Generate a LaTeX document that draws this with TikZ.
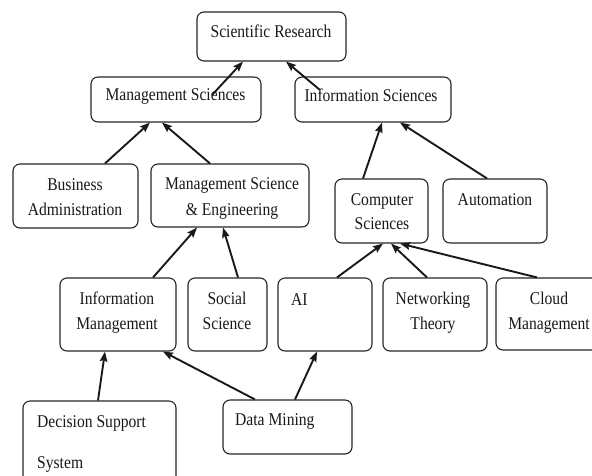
\documentclass[tikz,border=0pt]{standalone}
\usepackage{fontspec}
\usepackage{graphicx}
\setmainfont{Liberation Serif}
\usetikzlibrary{arrows.meta,calc}
\newcommand\vs[1]{\scalebox{1}[1.15]{#1}}
\begin{document}
\begin{tikzpicture}[x=1pt,y=-1pt,
  box/.style={draw=black!85,line width=1.1pt,rounded corners=7pt,fill=white,inner sep=0pt},
  txt/.style={anchor=base,inner sep=0pt,text=black!90,font=\fontsize{15.6}{18}\selectfont},
  ltxt/.style={txt,anchor=base west},
  arr/.style={line width=1.9pt,black!90,-{Stealth[length=10pt,width=7.5pt,inset=1.5pt]}}]
\clip (0,0) rectangle (592,475);
\fill[white] (0,0) rectangle (592,475);
% boxes
\node[box,minimum width=149pt,minimum height=49pt] (sr) at (271.5,36.5) {};
\node[box,minimum width=170pt,minimum height=45pt] (ms) at (176,99.5) {};
\node[box,minimum width=156pt,minimum height=45pt] (is) at (373,99.5) {};
\node[box,minimum width=125pt,minimum height=64pt] (ba) at (75.5,196) {};
\node[box,minimum width=158pt,minimum height=63pt] (mse) at (230,195.5) {};
\node[box,minimum width=93pt,minimum height=64pt] (cs) at (381.5,211) {};
\node[box,minimum width=104pt,minimum height=64pt] (au) at (495,211) {};
\node[box,minimum width=116pt,minimum height=73pt] (im) at (118,314.5) {};
\node[box,minimum width=79pt,minimum height=73pt] (ss) at (227.5,314.5) {};
\node[box,minimum width=94pt,minimum height=73pt] (ai) at (325,314.5) {};
\node[box,minimum width=104pt,minimum height=73pt] (nt) at (435,314.5) {};
\node[box,minimum width=106pt,minimum height=72pt] (cm) at (549,314) {};
\node[box,minimum width=153pt,minimum height=89pt] (dss) at (99.5,445.5) {};
\node[box,minimum width=129pt,minimum height=54pt] (dm) at (287.5,427) {};
% texts
\node[txt] (t1) at (271,37) {\vs{Scientific Research}};
\node[txt] (t2) at (175.5,100) {\vs{Management Sciences}};
\node[txt] (t3) at (371,101) {\vs{Information Sciences}};
\node[txt] (t4) at (75,190) {\vs{Business}};
\node[txt] (t5) at (75,215) {\vs{Administration}};
\node[txt] (t6) at (232,189) {\vs{Management Science}};
\node[txt] (t7) at (232,215) {\vs{\& Engineering}};
\node[txt] (t8) at (382,205) {\vs{Computer}};
\node[txt] (t9) at (382,229) {\vs{Sciences}};
\node[txt] (t10) at (495,205) {\vs{Automation}};
\node[txt] (t11) at (117,304) {\vs{Information}};
\node[txt] (t12) at (117,329) {\vs{Management}};
\node[txt] (t13) at (227,304) {\vs{Social}};
\node[txt] (t14) at (227,329) {\vs{Science}};
\node[ltxt] (t15) at (291,305) {\vs{AI}};
\node[txt] (t16) at (433,304) {\vs{Networking}};
\node[txt] (t17) at (433,329) {\vs{Theory}};
\node[txt] (t18) at (549,304) {\vs{Cloud}};
\node[txt] (t19) at (549,329) {\vs{Management}};
\node[ltxt] (t20) at (37,427) {\vs{Decision Support}};
\node[ltxt] (t21) at (37,468) {\vs{System}};
\node[ltxt] (t22) at (235,425) {\vs{Data Mining}};
% connectors
\draw[arr] ($(ms.center)+(36,-4.5)$) -- ([xshift=-28.5pt]sr.south);
\draw[arr] ($(is.center)+(-53,-9.5)$) -- ([xshift=14.5pt]sr.south);
\draw[arr] ([xshift=29.5pt]ba.north) -- ([xshift=-26pt]ms.south);
\draw[arr] ([xshift=-20pt]mse.north) -- ([xshift=-14pt]ms.south);
\draw[arr] ([xshift=-18.5pt]cs.north) -- ([xshift=9pt]is.south);
\draw[arr] ([xshift=-8pt]au.north) -- ([xshift=27pt]is.south);
\draw[arr] ([xshift=35pt]im.north) -- ([xshift=-33pt]mse.south);
\draw[arr] ([xshift=10.5pt]ss.north) -- ([xshift=-7pt]mse.south);
\draw[arr] ([xshift=12pt]ai.north) -- ([xshift=1.5pt]cs.south);
\draw[arr] ([xshift=-8pt]nt.north) -- ([xshift=9.5pt]cs.south);
\draw[arr] ([xshift=-12pt]cm.north) -- ([xshift=18.5pt]cs.south);
\draw[arr] ([xshift=-1.5pt]dss.north) -- ([xshift=-13pt]im.south);
\draw[arr] ([xshift=-32.5pt]dm.north) -- ([xshift=45pt]im.south);
\draw[arr] ([xshift=7.5pt]dm.north) -- ([xshift=-8pt]ai.south);
\end{tikzpicture}
\end{document}
